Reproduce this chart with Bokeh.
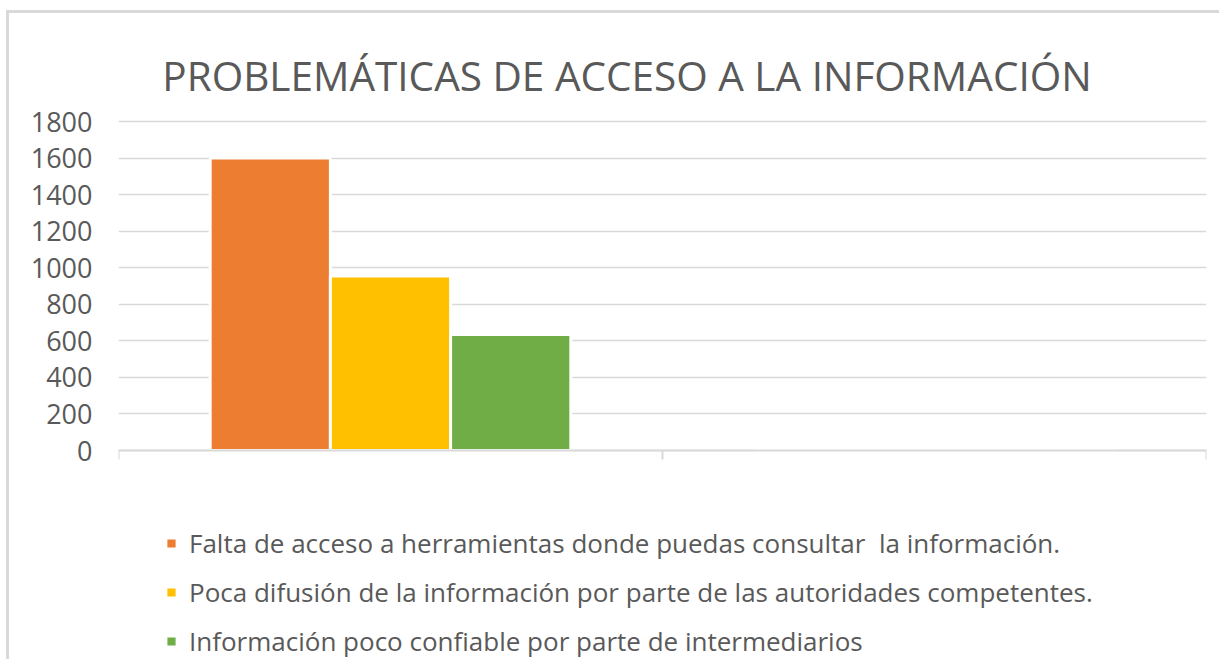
from bokeh.plotting import figure
from bokeh.models import (ColumnDataSource, Range1d, FixedTicker, Legend, LegendItem, Label, LinearAxis)
from bokeh.transform import dodge
from bokeh.embed import file_html
from bokeh.resources import INLINE

# ---- data ----
category_index = [0.5, 1.5]          # two category slots; only the first carries values
series_names = [
    "Falta de acceso a herramientas donde puedas consultar  la información.",
    "Poca difusión de la información por parte de las autoridades competentes.",
    "Información poco confiable por parte de intermediarios",
]
falta_acceso = [1600, 0]
poca_difusion = [955, 0]
poco_confiable = [635, 0]
colors = ["#ED7D31", "#FFC000", "#70AD47"]
y_ticks = [0, 200, 400, 600, 800, 1000, 1200, 1400, 1600, 1800]
x_boundaries = [0, 1, 2]
title_text = "PROBLEMÁTICAS DE ACCESO A LA INFORMACIÓN"

TEXT = "#595959"
GRID = "#d9d9d9"

# ---- layout (pixels inside the canvas) ----
FW, FH = 1088, 646          # frame size
PX_TOP, PX_ZERO = 108, 437  # pixel rows of the 1800 and 0 gridlines
u = (PX_ZERO - PX_TOP) / 1800.0
y_top = 1800 + PX_TOP / u
y_bottom = -(FH - PX_ZERO) / u

src = ColumnDataSource(dict(x=category_index, a=falta_acceso, b=poca_difusion, c=poco_confiable))

p = figure(frame_width=FW, frame_height=FH, output_backend="svg", toolbar_location=None,
           x_range=Range1d(0, 2), y_range=Range1d(y_bottom, y_top),
           x_axis_location=None,
           min_border_left=109, min_border_right=13, min_border_top=0, min_border_bottom=0)
p.styles = {"border-top": "3px solid #d9d9d9", "border-left": "3px solid #d9d9d9",
            "margin-left": "6px", "margin-top": "10px"}
p.outline_line_color = None
p.background_fill_color = "white"
p.border_fill_color = "white"

bw = 0.221
offsets = [-0.221, 0.0, 0.221]
fields = ["a", "b", "c"]
renderers = []
for f, off, col in zip(fields, offsets, colors):
    r = p.vbar(x=dodge("x", off), top=f, width=bw, bottom=0, source=src,
               fill_color=col, line_color="white", line_width=3)
    renderers.append(r)

# y axis
ya = p.yaxis[0]
ya.ticker = FixedTicker(ticks=y_ticks)
ya.axis_line_color = None
ya.major_tick_line_color = None
ya.minor_tick_line_color = None
ya.major_tick_out = 0
ya.major_tick_in = 0
ya.major_label_standoff = 26
ya.major_label_text_font = "Open Sans"
ya.major_label_text_font_size = "27px"
ya.major_label_text_color = TEXT

# category axis, drawn at y = 0
xa = LinearAxis(fixed_location=0, ticker=FixedTicker(ticks=x_boundaries))
xa.axis_line_color = GRID
xa.axis_line_width = 2
xa.major_tick_line_color = GRID
xa.major_tick_line_width = 2
xa.major_tick_out = 9
xa.major_tick_in = 0
xa.minor_tick_line_color = None
xa.major_label_overrides = {0: "", 1: "", 2: ""}
xa.major_label_text_font_size = "1px"
xa.major_label_standoff = 0
p.add_layout(xa, "below")

p.xgrid.grid_line_color = None
p.ygrid.ticker = FixedTicker(ticks=y_ticks)
p.ygrid.grid_line_color = GRID
p.ygrid.grid_line_width = 1.3

# title
title_cx = (617.5 - 109) / FW * 2
title_by = y_top - 62 / u
p.add_layout(Label(x=title_cx, y=title_by, text=title_text, text_align="center",
                   text_baseline="alphabetic", text_font="Open Sans",
                   text_font_size="40.5px", text_color=TEXT))

legend = Legend(items=[LegendItem(label=n, renderers=[r]) for n, r in zip(series_names, renderers)],
                location=(46, 0), orientation="vertical",
                glyph_width=14, glyph_height=14, label_height=36, label_standoff=11,
                spacing=13, padding=0, margin=0,
                label_text_font="Open Sans", label_text_font_size="26px", label_text_color=TEXT,
                border_line_color=None, background_fill_alpha=0)
p.add_layout(legend, "center")

open("out.html", "w").write(file_html(p, INLINE))
